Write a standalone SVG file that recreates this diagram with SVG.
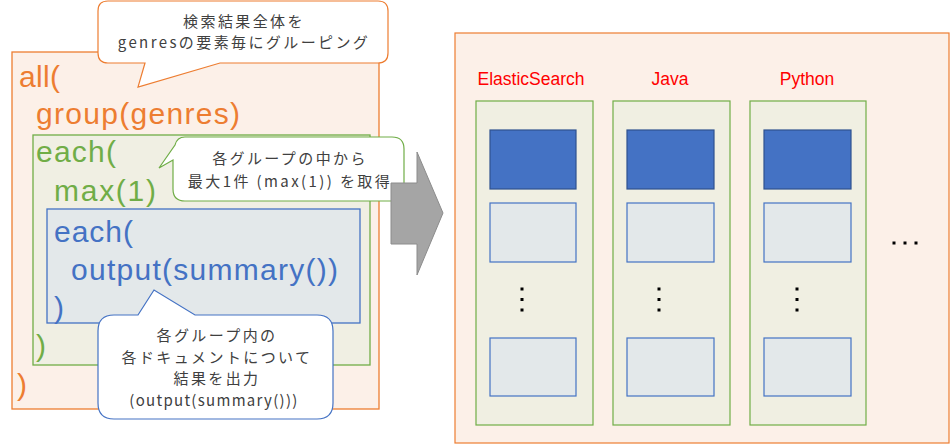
<svg xmlns="http://www.w3.org/2000/svg" width="950" height="444" viewBox="0 0 950 444">
<style>
.code{font-family:"Liberation Sans",Arial,sans-serif;font-size:30px}
.or{fill:#ed7d31}.gr{fill:#70ad47}.bl{fill:#4472c4}
.note{font-family:"Noto Sans CJK JP","Noto Sans",sans-serif;font-size:15px;fill:#404040;text-anchor:middle;letter-spacing:2.4px}
.lat{letter-spacing:1.3px}
.lbl{font-family:"Liberation Sans",Arial,sans-serif;font-size:17.5px;fill:#ff0000;text-anchor:middle}
.col{fill:#f0efe2;stroke:#70ad47;stroke-width:1.2}
.top{fill:#4472c4;stroke:#2f528f;stroke-width:1.2}
.doc{fill:#e3e8ea;stroke:#4472c4;stroke-width:1.2}
.dot{fill:#000}
</style>
<rect width="950" height="444" fill="#ffffff"/>
<g id="query">
<rect id="all-box" x="12" y="52" width="367" height="357" fill="#fcf0e8" stroke="#ed7d31" stroke-width="1.3"/>
<rect id="each-box" x="33" y="135" width="337" height="230" fill="#f0efe3" stroke="#70ad47" stroke-width="1.3"/>
<rect id="inner-each-box" x="47" y="209" width="313" height="114" fill="#e3e8ea" stroke="#4472c4" stroke-width="1.3"/>
<text class="code or" x="19" y="87" textLength="41" lengthAdjust="spacing">all(</text>
<text class="code or" x="36" y="124" textLength="204" lengthAdjust="spacing">group(genres)</text>
<text class="code gr" x="36" y="162" textLength="80" lengthAdjust="spacing">each(</text>
<text class="code gr" x="54" y="201" textLength="102" lengthAdjust="spacing">max(1)</text>
<text class="code bl" x="54" y="242" textLength="79" lengthAdjust="spacing">each(</text>
<text class="code bl" x="71" y="280" textLength="267" lengthAdjust="spacing">output(summary())</text>
<text class="code bl" x="54" y="318">)</text>
<text class="code gr" x="36" y="356">)</text>
<text class="code or" x="17" y="395">)</text>
</g>
<g id="note-group">
<path d="M108,1 H378 Q388,1 388,11 V53 Q388,63 378,63 H220 L138,87 L145,63 H108 Q98,63 98,53 V11 Q98,1 108,1 Z" fill="#ffffff" stroke="#ed7d31" stroke-width="1.2"/>
<text class="note" x="244" y="27">検索結果全体を</text>
<text class="note" x="244" y="48">genresの要素毎にグルーピング</text>
</g>
<g id="note-max">
<path d="M185,137 H392 Q404,137 404,149 V189 Q404,201 392,201 H185 Q173,201 173,189 V160 L159,168 L175,145 Q177,137 185,137 Z" fill="#ffffff" stroke="#70ad47" stroke-width="1.2"/>
<text class="note" x="290" y="164">各グループの中から</text>
<text class="note" x="290" y="187">最大1件 (max(1)) を取得</text>
</g>
<g id="note-output">
<path d="M114,315 H138 L154,290 L195,315 H317 Q333,315 333,331 V403 Q333,419 317,419 H114 Q98,419 98,403 V331 Q98,315 114,315 Z" fill="#ffffff" stroke="#4472c4" stroke-width="1.2"/>
<text class="note" x="217" y="341">各グループ内の</text>
<text class="note" x="217" y="363">各ドキュメントについて</text>
<text class="note" x="217" y="384">結果を出力</text>
<text class="note lat" x="214" y="406">(output(summary()))</text>
</g>
<g id="connectors">
<polygon id="arrow" points="391,183 417,183 417,152 443,213 417,275 417,244 391,244" fill="#a5a5a5" stroke="#8c8c8c" stroke-width="1"/>
</g>
<g id="result">
<rect x="455" y="33" width="494" height="410" fill="#fcf0e8" stroke="#ed7d31" stroke-width="1.2"/>
<g id="col-elasticsearch">
<text class="lbl" x="531" y="85">ElasticSearch</text>
<rect class="col" x="476" y="101" width="117" height="324"/>
<rect class="top" x="490" y="130" width="86" height="59"/>
<rect class="doc" x="490" y="203" width="86" height="59"/>
<rect class="dot" x="520.5" y="287.5" width="3" height="3"/>
<rect class="dot" x="520.5" y="298" width="3" height="3"/>
<rect class="dot" x="520.5" y="308.5" width="3" height="3"/>
<rect class="doc" x="490" y="338" width="86" height="58"/>
</g>
<g id="col-java">
<text class="lbl" x="670" y="85">Java</text>
<rect class="col" x="613" y="101" width="117" height="324"/>
<rect class="top" x="627" y="130" width="87" height="59"/>
<rect class="doc" x="627" y="203" width="87" height="59"/>
<rect class="dot" x="657.5" y="287.5" width="3" height="3"/>
<rect class="dot" x="657.5" y="298" width="3" height="3"/>
<rect class="dot" x="657.5" y="308.5" width="3" height="3"/>
<rect class="doc" x="627" y="338" width="87" height="58"/>
</g>
<g id="col-python">
<text class="lbl" x="807" y="85">Python</text>
<rect class="col" x="750" y="101" width="116" height="324"/>
<rect class="top" x="764" y="130" width="87" height="59"/>
<rect class="doc" x="764" y="203" width="87" height="59"/>
<rect class="dot" x="795.5" y="287.5" width="3" height="3"/>
<rect class="dot" x="795.5" y="298" width="3" height="3"/>
<rect class="dot" x="795.5" y="308.5" width="3" height="3"/>
<rect class="doc" x="764" y="338" width="87" height="58"/>
</g>
<g id="more">
<rect class="dot" x="892.5" y="241.5" width="3" height="3"/>
<rect class="dot" x="903.5" y="241.5" width="3" height="3"/>
<rect class="dot" x="914.5" y="241.5" width="3" height="3"/>
</g>
</g>
</svg>
